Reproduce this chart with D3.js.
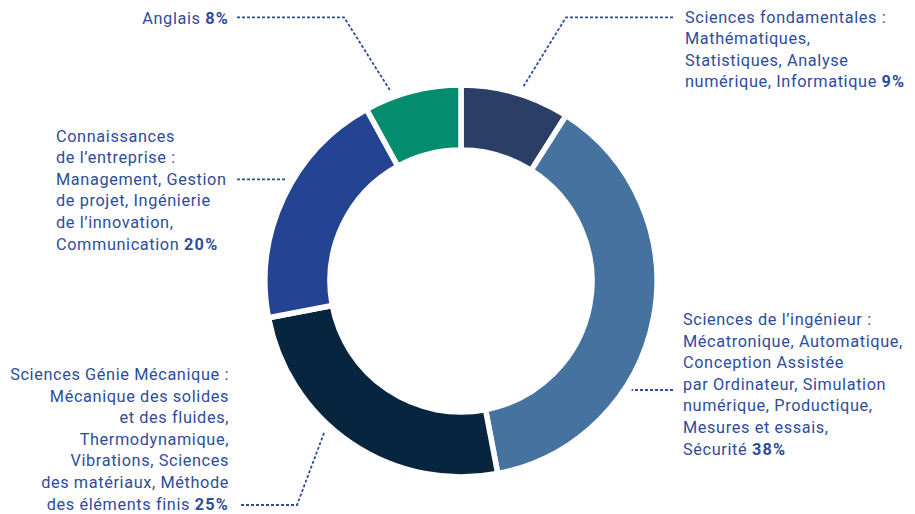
<!DOCTYPE html>
<html><head><meta charset="utf-8">
<script src="https://cdn.jsdelivr.net/npm/d3@7"></script>
<style>
html,body{margin:0;padding:0;background:#fff;}
svg{display:block;}
text{font-family:Roboto,"Noto Sans",sans-serif;}
</style></head>
<body>
<svg id="c" width="915" height="514"></svg>
<script>
// ---- data ----
const categories = ["Sciences fondamentales", "Sciences de l’ingénieur", "Sciences Génie Mécanique", "Connaissances de l’entreprise", "Anglais"];
const values = [9, 38, 25, 20, 8];
const colors = ["#2b3e65", "#46729f", "#08253f", "#244392", "#038c6d"];
const labelLines = [
  ["Sciences fondamentales :", "Mathématiques,", "Statistiques, Analyse", "numérique, Informatique"],
  ["Sciences de l’ingénieur :", "Mécatronique, Automatique,", "Conception Assistée", "par Ordinateur, Simulation", "numérique, Productique,", "Mesures et essais,", "Sécurité"],
  ["Sciences Génie Mécanique :", "Mécanique des solides", "et des fluides,", "Thermodynamique,", "Vibrations, Sciences", "des matériaux, Méthode", "des éléments finis"],
  ["Connaissances", "de l’entreprise :", "Management, Gestion", "de projet, Ingénierie", "de l’innovation,", "Communication"],
  ["Anglais"]
];

// ---- layout ----
const cx = 461, cy = 281, rOuter = 196, rInner = 131;
const textColor = "#2d4d9c";
const fontSize = 16.3, lineH = 21.6, letterSpacing = 0.62, boldSpacing = 1.2;
const layout = [
  {x: 685, y: 22.5, anchor: "start", tipAngle: 17.7, elbow: [566, 17.3], start: [673, 17.3]},
  {x: 683, y: 325, anchor: "start", tipAngle: 122.8, elbow: null, start: [673, 390]},
  {x: 229, y: 380, anchor: "end", tipAngle: 222.2, elbow: [297, 505], start: [241, 505]},
  {x: 56, y: 141.5, anchor: "start", tipAngle: 300.1, elbow: null, start: [237, 179.3]},
  {x: 229, y: 24, anchor: "end", tipAngle: 339.6, elbow: [344, 17.3], start: [237, 17.3]}
];

const svg = d3.select("#c");
const g = svg.append("g").attr("transform", `translate(${cx},${cy})`);

const pie = d3.pie().sort(null).value(d => d)(values);
const arc = d3.arc().innerRadius(rInner).outerRadius(rOuter);

g.selectAll("path.slice").data(pie).join("path")
  .attr("class", "slice")
  .attr("d", arc)
  .attr("fill", (d, i) => colors[i])
  .attr("stroke", "#fff")
  .attr("stroke-width", 5.5)
  .attr("stroke-linejoin", "miter");

// leader lines
const tipR = 203;
layout.forEach((L, i) => {
  const a = L.tipAngle * Math.PI / 180;
  const tip = [cx + tipR * Math.sin(a), cy - tipR * Math.cos(a)];
  const pts = L.elbow ? [L.start, L.elbow, tip] : [L.start, [tip[0], L.start[1]]];
  svg.append("path")
    .attr("d", d3.line()(pts))
    .attr("fill", "none")
    .attr("stroke", textColor)
    .attr("stroke-width", 1.8)
    .attr("stroke-dasharray", "3,2");
});

// labels
layout.forEach((L, i) => {
  const t = svg.append("text")
    .attr("x", L.x).attr("y", L.y)
    .attr("text-anchor", L.anchor)
    .attr("fill", textColor)
    .attr("font-size", fontSize)
    .attr("letter-spacing", letterSpacing);
  const lines = labelLines[i];
  lines.forEach((ln, j) => {
    const ts = t.append("tspan").attr("x", L.x).attr("y", L.y + j * lineH).text(ln);
    if (j === lines.length - 1) {
      ts.append("tspan").text(" ");
      ts.append("tspan").attr("font-weight", "bold").attr("letter-spacing", boldSpacing).text(values[i] + "%");
    }
  });
});
</script>
</body></html>
